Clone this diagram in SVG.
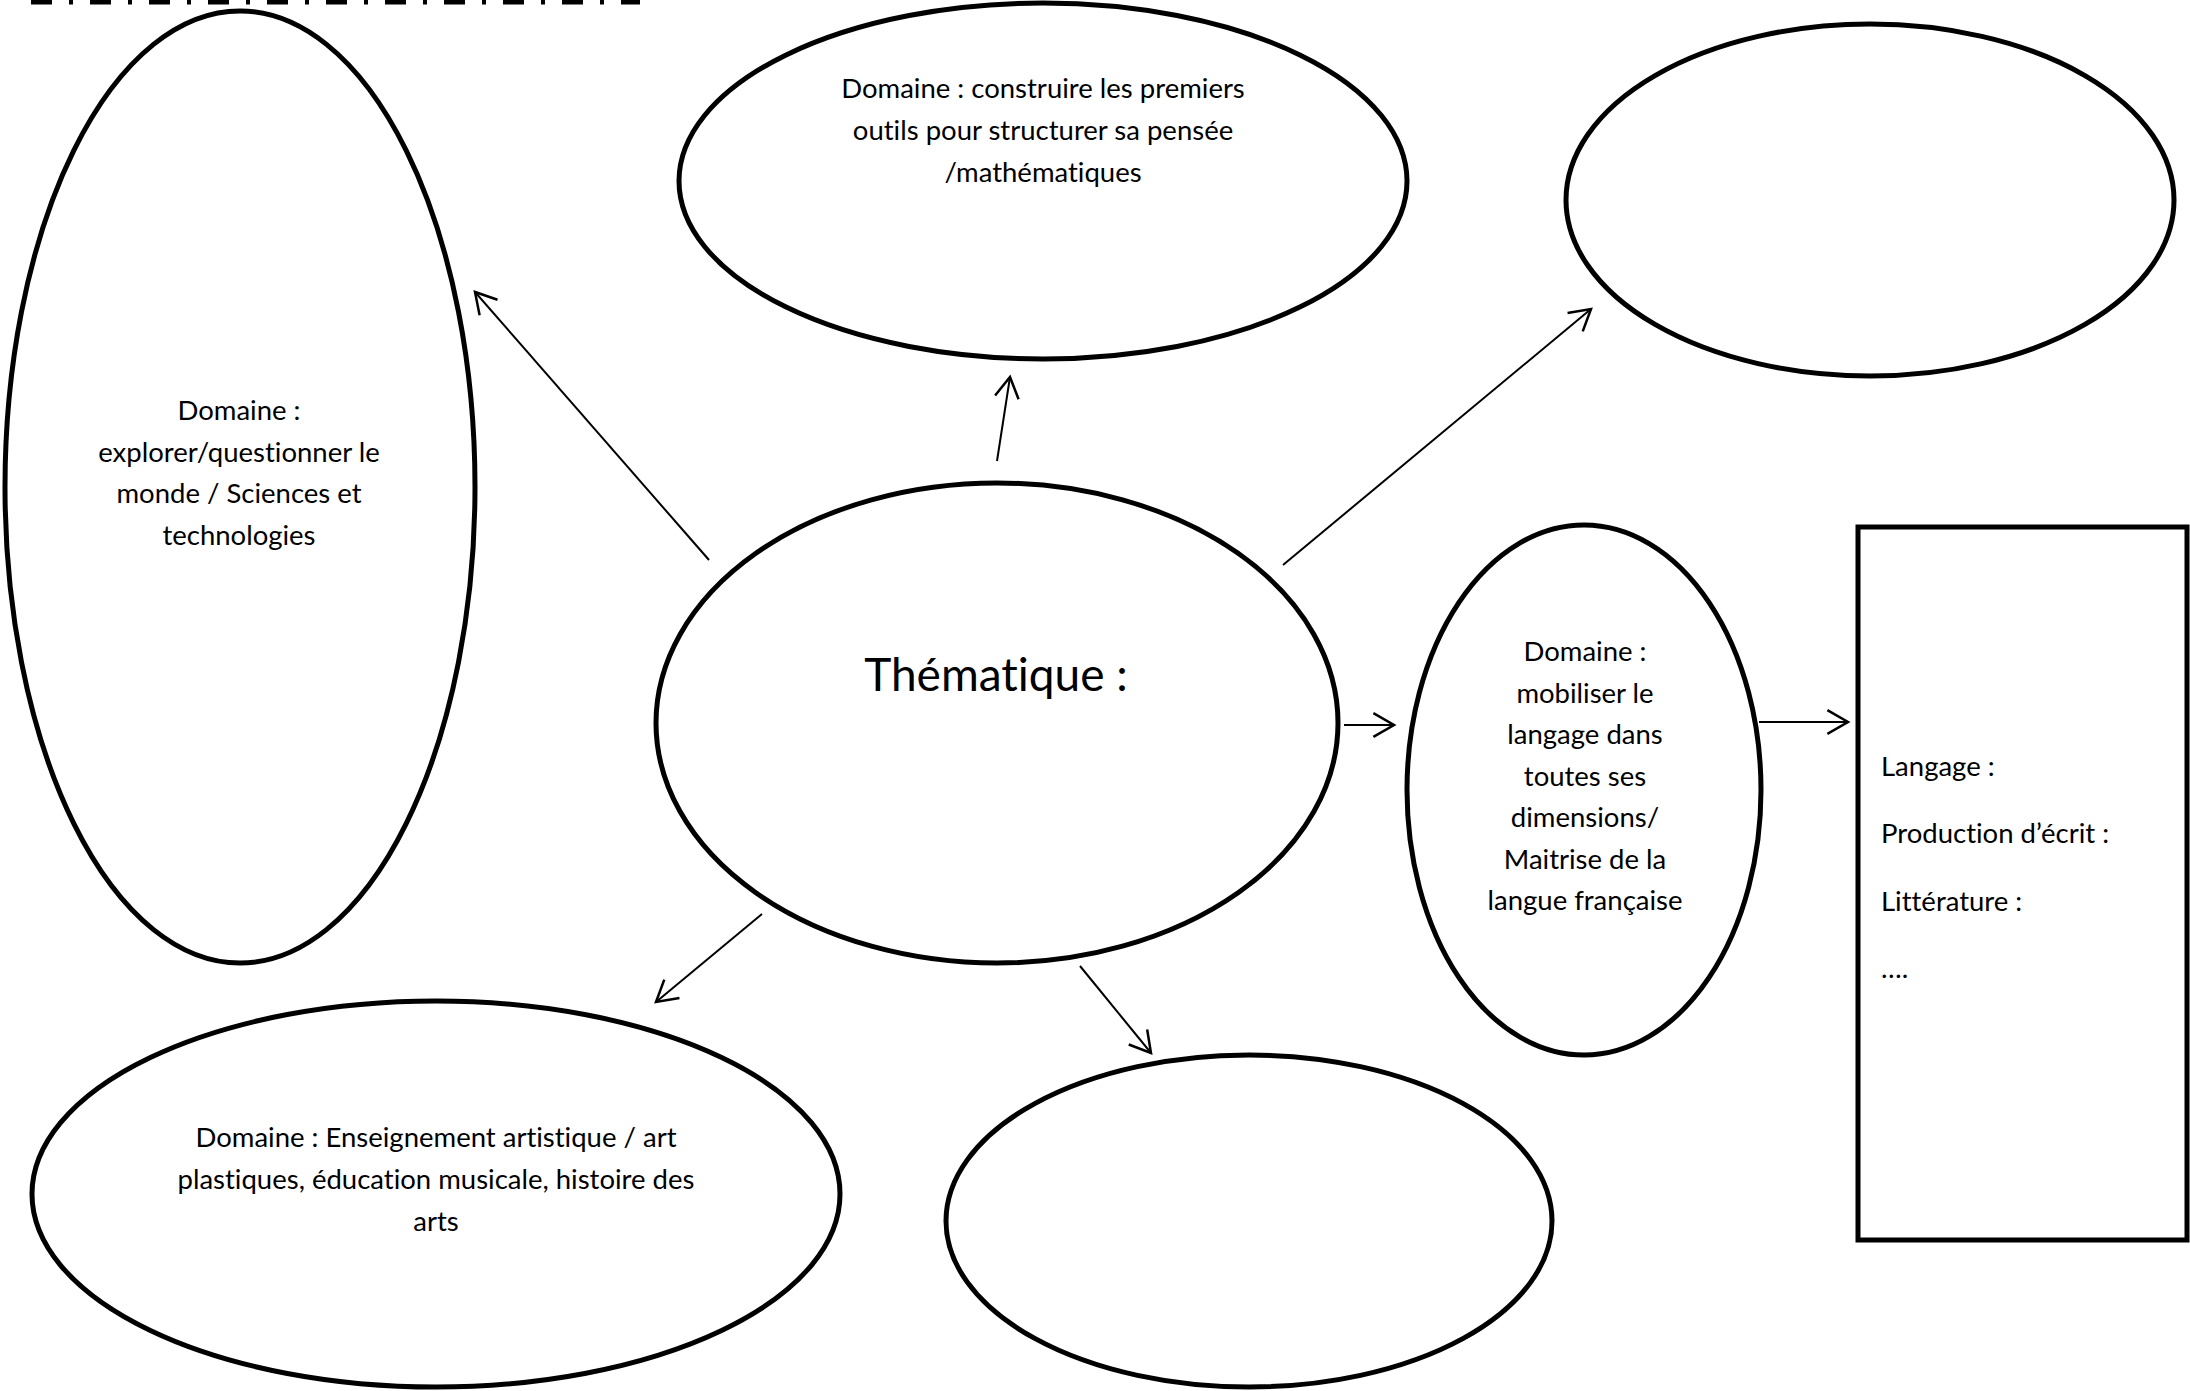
<svg xmlns="http://www.w3.org/2000/svg" width="2190" height="1391" viewBox="0 0 2190 1391">
<defs>
<marker id="arr" markerUnits="userSpaceOnUse" markerWidth="30" markerHeight="30" viewBox="-20 -12 24 24" refX="0" refY="0" orient="auto">
<path d="M -16.5 -9.5 L 0 0 L -16.5 9.5" fill="none" stroke="#000" stroke-width="2"/>
</marker>
</defs>
<style>
.n{fill:#fff;stroke:#000;stroke-width:5}
.t{font-family:Lato,"Liberation Sans",sans-serif;font-size:27.5px;fill:#000;font-variant-ligatures:none}
.c{text-anchor:middle}
.e{stroke:#000;stroke-width:2;fill:none;marker-end:url(#arr)}
</style>
<rect width="2190" height="1391" fill="#fff"/>
<line x1="31" y1="2" x2="640" y2="2" stroke="#000" stroke-width="5" stroke-dasharray="21 17 4 17"/>
<g id="n-sciences">
<ellipse class="n" cx="240" cy="487" rx="235" ry="476"/>
<text class="t c"><tspan x="239" y="420">Domaine :</tspan><tspan x="239" y="461.5">explorer/questionner le</tspan><tspan x="239" y="503">monde / Sciences et</tspan><tspan x="239" y="544.5">technologies</tspan></text>
</g>
<g id="n-maths">
<ellipse class="n" cx="1043" cy="181" rx="364" ry="178"/>
<text class="t c"><tspan x="1043" y="98">Domaine : construire les premiers</tspan><tspan x="1043" y="140">outils pour structurer sa pensée</tspan><tspan x="1043" y="182">/mathématiques</tspan></text>
</g>
<g id="n-topright">
<ellipse class="n" cx="1870" cy="200" rx="304" ry="176"/>
</g>
<g id="n-thematique">
<ellipse class="n" cx="997" cy="723" rx="341" ry="240"/>
<text x="996" y="691" class="c" font-family="Lato,'Liberation Sans',sans-serif" font-size="46" style="font-variant-ligatures:none">Thématique :</text>
</g>
<g id="n-langage">
<ellipse class="n" cx="1584" cy="790" rx="177" ry="265"/>
<text class="t c"><tspan x="1585" y="661">Domaine :</tspan><tspan x="1585" y="702.5">mobiliser le</tspan><tspan x="1585" y="744">langage dans</tspan><tspan x="1585" y="785.5">toutes ses</tspan><tspan x="1585" y="827">dimensions/</tspan><tspan x="1585" y="868.5">Maitrise de la</tspan><tspan x="1585" y="910">langue française</tspan></text>
</g>
<g id="n-list">
<rect class="n" x="1858" y="527" width="329" height="713"/>
<text class="t"><tspan x="1881" y="776">Langage :</tspan><tspan x="1881" y="843">Production d’écrit :</tspan><tspan x="1881" y="911">Littérature :</tspan><tspan x="1881" y="978">….</tspan></text>
</g>
<g id="n-arts">
<ellipse class="n" cx="436" cy="1194" rx="404" ry="193"/>
<text class="t c"><tspan x="436" y="1147">Domaine : Enseignement artistique / art</tspan><tspan x="436" y="1189">plastiques, éducation musicale, histoire des</tspan><tspan x="436" y="1231">arts</tspan></text>
</g>
<g id="n-bottom">
<ellipse class="n" cx="1249" cy="1221" rx="303" ry="166"/>
</g>
<g id="connectors">
<line class="e" x1="709" y1="560" x2="475" y2="292"/>
<line class="e" x1="997" y1="461" x2="1010" y2="377"/>
<line class="e" x1="1283" y1="565" x2="1591" y2="309"/>
<line class="e" x1="1344" y1="725" x2="1394" y2="725"/>
<line class="e" x1="1759" y1="722" x2="1848" y2="722"/>
<line class="e" x1="762" y1="914" x2="656" y2="1002"/>
<line class="e" x1="1080" y1="966" x2="1151" y2="1053"/>
</g>
</svg>
